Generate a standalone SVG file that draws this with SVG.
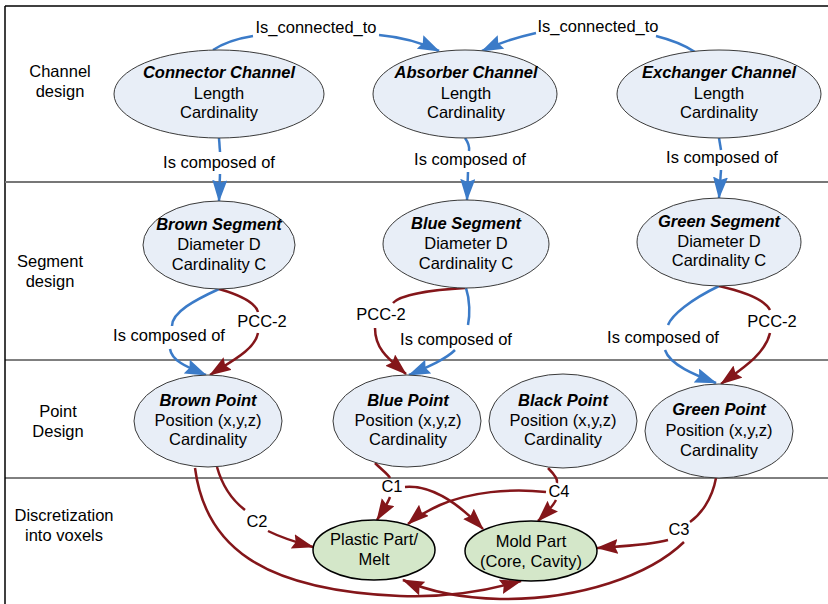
<svg xmlns="http://www.w3.org/2000/svg" width="828" height="604" viewBox="0 0 828 604">
<defs>
<style>
text{font-family:"Liberation Sans",Arial,sans-serif;font-size:16.5px;fill:#000;text-anchor:middle}
.t{font-weight:bold;font-style:italic}
.n{fill:#E8EEF7;stroke:#3a3a3a;stroke-width:1}
.g{fill:#D4E7C9;stroke:#000;stroke-width:1.5}
.b{fill:none;stroke:#3B7BC8;stroke-width:2.5}
.r{fill:none;stroke:#84161A;stroke-width:2.5}
.ab{marker-end:url(#mb)}
.ar{marker-end:url(#mr)}
</style>
<marker id="mb" markerUnits="userSpaceOnUse" markerWidth="24" markerHeight="16" refX="21" refY="7.5" orient="auto"><path d="M0,0 L22,7.5 L0,15 L3,7.5 z" fill="#3B7BC8"/></marker>
<marker id="mr" markerUnits="userSpaceOnUse" markerWidth="24" markerHeight="16" refX="21" refY="7.5" orient="auto"><path d="M0,0 L22,7.5 L0,15 L3,7.5 z" fill="#84161A"/></marker>
</defs>
<rect width="828" height="604" fill="#fff"/>
<g id="frame">
<line x1="5" y1="6" x2="828" y2="6" stroke="#000" stroke-width="1.5"/>
<line x1="5" y1="6" x2="5" y2="604" stroke="#000" stroke-width="1.5"/>
<line x1="5" y1="182" x2="828" y2="182" stroke="#777" stroke-width="2"/>
<line x1="5" y1="360" x2="828" y2="360" stroke="#000" stroke-width="1"/>
<line x1="5" y1="478" x2="828" y2="478" stroke="#000" stroke-width="1"/>
</g>
<g id="lanes">
<text x="60" y="77">Channel</text><text x="60" y="97">design</text>
<text x="50" y="267">Segment</text><text x="50" y="287">design</text>
<text x="58" y="417">Point</text><text x="58" y="437">Design</text>
<text x="64" y="521">Discretization</text><text x="64" y="541">into voxels</text>
</g>
<g id="connectors">
<path class="b" d="M213,50 Q228,40 253,36"/>
<path class="b ab" d="M379,35 Q412,38 439,51"/>
<path class="b" d="M695,52 Q680,42 656,36"/>
<path class="b ab" d="M536,33 Q505,40 482,51"/>
<path class="b" d="M219,138 L220,152"/>
<path class="b ab" d="M220,174 L219,201"/>
<path class="b" d="M465,138 Q470,145 469,151"/>
<path class="b ab" d="M468,172 L467,200"/>
<path class="b" d="M719,138 L721,150"/>
<path class="b ab" d="M721,170 L719,198"/>
<path class="b" d="M219,289 C195,300 172,312 172,326"/>
<path class="b ab" d="M170,349 C172,362 190,368 206,375"/>
<path class="r" d="M219,289 C240,295 255,302 258,312"/>
<path class="r ar" d="M258,333 C255,350 230,362 210,375"/>
<path class="r" d="M465,288 C430,290 400,295 393,303"/>
<path class="r ar" d="M375,328 C375,350 390,360 406,374"/>
<path class="b" d="M466,288 C470,300 470,315 468,325"/>
<path class="b ab" d="M455,350 C445,360 425,368 409,375"/>
<path class="b" d="M719,286 C690,300 672,315 668,325"/>
<path class="b ab" d="M665,350 C670,365 695,375 716,383"/>
<path class="r" d="M719,286 C745,292 765,300 770,310"/>
<path class="r ar" d="M770,333 C765,355 740,370 721,384"/>
<path class="r" d="M217,467 C222,485 232,500 245,510"/>
<path class="r ar" d="M268,531 C280,537 295,542 313,547"/>
<path class="r ar" d="M195,468 C205,545 260,590 400,596 C450,598 490,590 521,581"/>
<path class="r" d="M716,478 C712,500 700,515 690,522"/>
<path class="r ar" d="M668,540 C650,545 625,546 597,548"/>
<path class="r ar" d="M684,542 C650,575 580,600 500,599 C460,598 430,592 403,580"/>
<path class="r" d="M375,463 C382,470 388,474 390,478"/>
<path class="r ar" d="M390,497 C387,505 382,512 377,520"/>
<path class="r ar" d="M405,487 C430,485 455,500 483,529"/>
<path class="r" d="M548,468 C555,475 558,480 557,483"/>
<path class="r ar" d="M556,500 C552,508 545,514 538,521"/>
<path class="r ar" d="M546,492 C510,488 470,492 440,505 C425,512 415,518 408,524"/>
</g>
<g id="labels">
<text x="316" y="33">Is_connected_to</text>
<text x="598" y="32">Is_connected_to</text>
<text x="219" y="168">Is composed of</text>
<text x="470" y="165">Is composed of</text>
<text x="722" y="163">Is composed of</text>
<text x="169" y="341">Is composed of</text>
<text x="262" y="327">PCC-2</text>
<text x="381" y="320">PCC-2</text>
<text x="456" y="345">Is composed of</text>
<text x="663" y="343">Is composed of</text>
<text x="772" y="327">PCC-2</text>
<text x="257" y="527">C2</text>
<text x="392" y="492">C1</text>
<text x="559" y="497">C4</text>
<text x="679" y="535">C3</text>
</g>
<g id="connector-channel"><ellipse class="n" cx="219" cy="94" rx="105" ry="44"/><text class="t" x="219" y="78">Connector Channel</text><text x="219" y="99">Length</text><text x="219" y="118">Cardinality</text></g>
<g id="absorber-channel"><ellipse class="n" cx="465" cy="94" rx="92" ry="44"/><text class="t" x="466" y="78">Absorber Channel</text><text x="466" y="99">Length</text><text x="466" y="118">Cardinality</text></g>
<g id="exchanger-channel"><ellipse class="n" cx="719" cy="94" rx="102" ry="44"/><text class="t" x="719" y="78">Exchanger Channel</text><text x="719" y="99">Length</text><text x="719" y="118">Cardinality</text></g>
<g id="brown-segment"><ellipse class="n" cx="219" cy="245" rx="76" ry="44"/><text class="t" x="219" y="230">Brown Segment</text><text x="219" y="250">Diameter D</text><text x="219" y="270">Cardinality C</text></g>
<g id="blue-segment"><ellipse class="n" cx="466" cy="244" rx="83" ry="44"/><text class="t" x="466" y="229">Blue Segment</text><text x="466" y="249">Diameter D</text><text x="466" y="269">Cardinality C</text></g>
<g id="green-segment"><ellipse class="n" cx="719" cy="242" rx="82" ry="44"/><text class="t" x="719" y="227">Green Segment</text><text x="719" y="247">Diameter D</text><text x="719" y="266">Cardinality C</text></g>
<g id="brown-point"><ellipse class="n" cx="208" cy="421" rx="74" ry="46"/><text class="t" x="208" y="406">Brown Point</text><text x="208" y="426">Position (x,y,z)</text><text x="208" y="445">Cardinality</text></g>
<g id="blue-point"><ellipse class="n" cx="407" cy="421" rx="74" ry="46"/><text class="t" x="408" y="406">Blue Point</text><text x="408" y="426">Position (x,y,z)</text><text x="408" y="445">Cardinality</text></g>
<g id="black-point"><ellipse class="n" cx="563" cy="421" rx="74" ry="47"/><text class="t" x="563" y="406">Black Point</text><text x="563" y="426">Position (x,y,z)</text><text x="563" y="445">Cardinality</text></g>
<g id="green-point"><ellipse class="n" cx="719" cy="431" rx="74" ry="47"/><text class="t" x="719" y="415">Green Point</text><text x="719" y="436">Position (x,y,z)</text><text x="719" y="456">Cardinality</text></g>
<g id="plastic-part"><ellipse class="g" cx="374" cy="550" rx="61" ry="30"/><text x="374" y="545">Plastic Part/</text><text x="374" y="565">Melt</text></g>
<g id="mold-part"><ellipse class="g" cx="531" cy="551" rx="66" ry="30"/><text x="531" y="547">Mold Part</text><text x="531" y="567">(Core, Cavity)</text></g>
</svg>
